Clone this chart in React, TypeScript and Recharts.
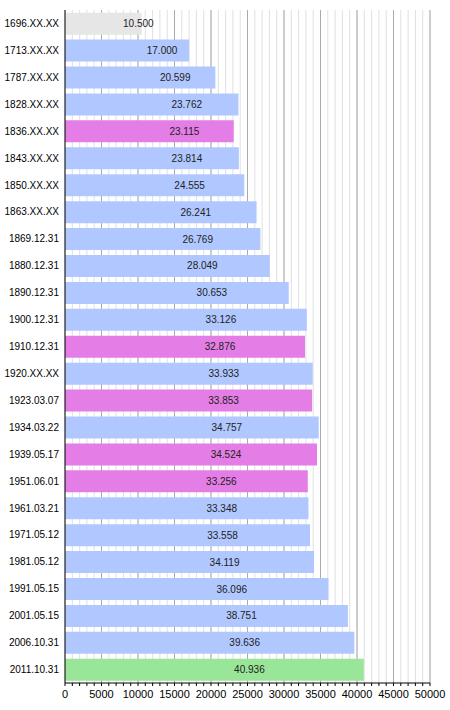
import { BarChart, Bar, XAxis, YAxis, CartesianGrid, Cell, LabelList } from 'recharts';

const dates = [
  '1696.XX.XX', '1713.XX.XX', '1787.XX.XX', '1828.XX.XX', '1836.XX.XX',
  '1843.XX.XX', '1850.XX.XX', '1863.XX.XX', '1869.12.31', '1880.12.31',
  '1890.12.31', '1900.12.31', '1910.12.31', '1920.XX.XX', '1923.03.07',
  '1934.03.22', '1939.05.17', '1951.06.01', '1961.03.21', '1971.05.12',
  '1981.05.12', '1991.05.15', '2001.05.15', '2006.10.31', '2011.10.31',
];

const population = [
  10500, 17000, 20599, 23762, 23115, 23814, 24555, 26241, 26769, 28049,
  30653, 33126, 32876, 33933, 33853, 34757, 34524, 33256, 33348, 33558,
  34119, 36096, 38751, 39636, 40936,
];

// 'est' = estimate, 'reg' = regular census, 'alt' = other count, 'last' = latest
const kinds = [
  'est', 'reg', 'reg', 'reg', 'alt', 'reg', 'reg', 'reg', 'reg', 'reg',
  'reg', 'reg', 'alt', 'reg', 'alt', 'reg', 'alt', 'alt', 'reg', 'reg',
  'reg', 'reg', 'reg', 'reg', 'last',
];

const majorTicks = [5000, 10000, 15000, 20000, 25000, 30000, 35000, 40000, 45000, 50000];
const minorTicks = [
  0, 1000, 2000, 3000, 4000, 5000, 6000, 7000, 8000, 9000, 10000,
  11000, 12000, 13000, 14000, 15000, 16000, 17000, 18000, 19000, 20000,
  21000, 22000, 23000, 24000, 25000, 26000, 27000, 28000, 29000, 30000,
  31000, 32000, 33000, 34000, 35000, 36000, 37000, 38000, 39000, 40000,
  41000, 42000, 43000, 44000, 45000, 46000, 47000, 48000, 49000, 50000,
];

const kindColor: Record<string, string> = {
  est: '#e6e6e6',
  reg: '#b0c8ff',
  alt: '#e47ee6',
  last: '#99e699',
};

const data = dates.map((d, i) => ({ date: d, value: population[i], kind: kinds[i] }));

const fmt = (v: number) => (v / 1000).toFixed(3);

const font = '"Liberation Sans", Arial, sans-serif';

const BarLabel = (props: any) => {
  const { x, y, width, height, value } = props;
  return (
    <text
      x={x + width / 2 + 35}
      y={y + height / 2}
      textAnchor="middle"
      dominantBaseline="central"
      fontSize={10}
      fontFamily={font}
      fill="#222"
    >
      {fmt(value)}
    </text>
  );
};

// major grid lines, placed through the x axis scale
const majorLines = ({ xAxis }: any) => {
  const s = xAxis.scale;
  return majorTicks.map((t) => (typeof s === 'function' ? s(t) : s.map(t)));
};

export default function App() {
  return (
    <div style={{ position: 'absolute', left: 0, top: 0 }}>
      <BarChart
        width={450}
        height={710}
        data={data}
        layout="vertical"
        barCategoryGap="10%"
        margin={{ top: 10, right: 20, left: 0, bottom: 7 }}
      >
        <CartesianGrid horizontal={false} stroke="#e0e0e0" />
        <CartesianGrid horizontal={false} stroke="#aaaaaa" verticalCoordinatesGenerator={majorLines} />
        <XAxis
          type="number"
          domain={[0, 50000]}
          ticks={minorTicks}
          interval={0}
          tickSize={3}
          tickMargin={4}
          height={20}
          stroke="#000"
          tick={{ fontSize: 11, fontFamily: font, fill: '#000' }}
          tickFormatter={(v: number) => (v % 5000 === 0 ? String(v) : '')}
        />
        <YAxis
          type="category"
          dataKey="date"
          width={65}
          tickLine={false}
          tickSize={0}
          tickMargin={6}
          interval={0}
          stroke="#000"
          tick={{ fontSize: 10, fontFamily: font, fill: '#000' }}
        />
        <Bar dataKey="value" isAnimationActive={false}>
          {data.map((d) => (
            <Cell key={d.date} fill={kindColor[d.kind]} />
          ))}
          <LabelList dataKey="value" content={BarLabel} />
        </Bar>
      </BarChart>
    </div>
  );
}
